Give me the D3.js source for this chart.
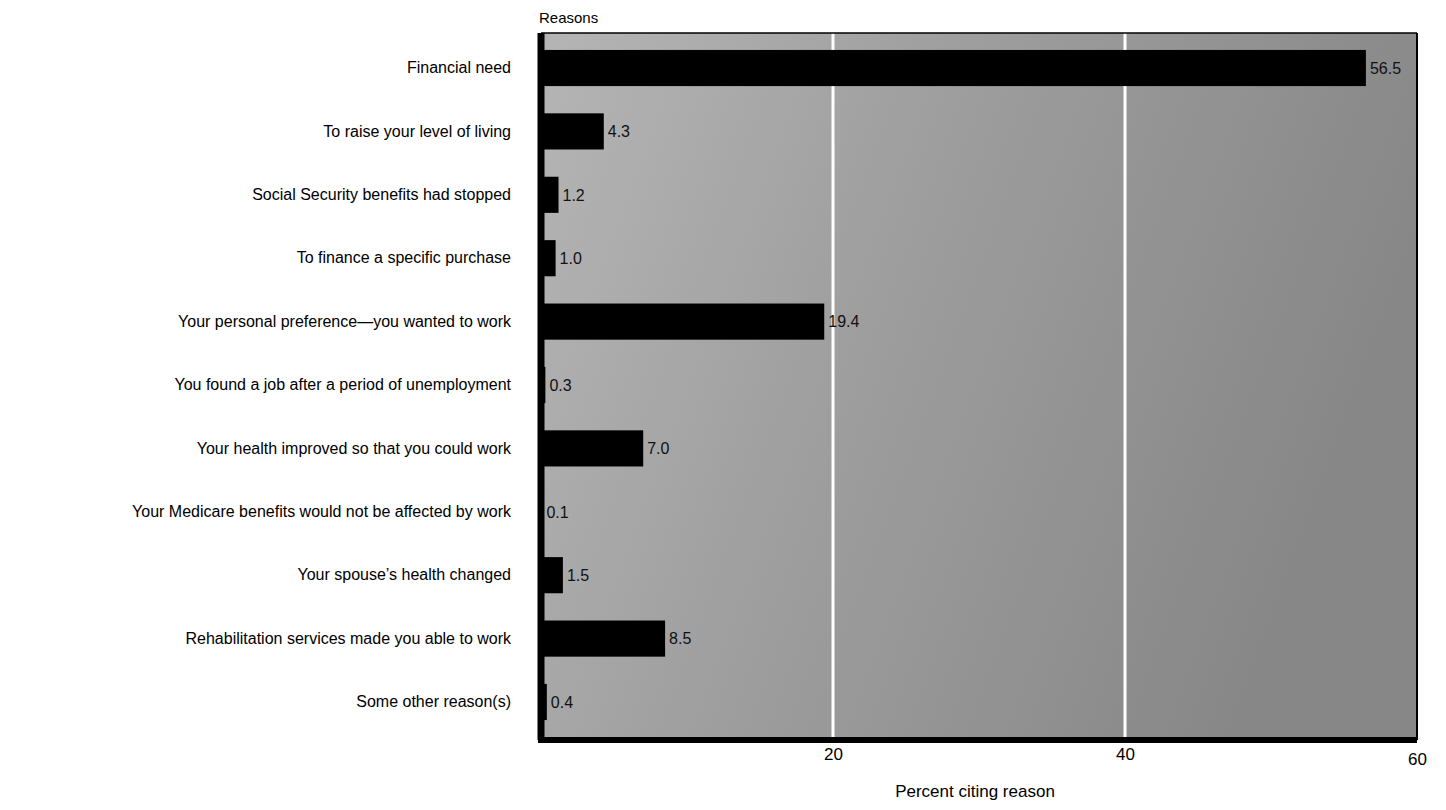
<!DOCTYPE html>
<html>
<head>
<meta charset="utf-8">
<script src="https://cdn.jsdelivr.net/npm/d3@7"></script>
<style>
  html, body { margin: 0; padding: 0; background: #fff; }
  svg { display: block; }
</style>
</head>
<body>
<svg id="chart" width="1446" height="810"></svg>
<script>
const categories = [
  "Financial need",
  "To raise your level of living",
  "Social Security benefits had stopped",
  "To finance a specific purchase",
  "Your personal preference\u2014you wanted to work",
  "You found a job after a period of unemployment",
  "Your health improved so that you could work",
  "Your Medicare benefits would not be affected by work",
  "Your spouse\u2019s health changed",
  "Rehabilitation services made you able to work",
  "Some other reason(s)"
];
const values = [56.5, 4.3, 1.2, 1.0, 19.4, 0.3, 7.0, 0.1, 1.5, 8.5, 0.4];
const valueLabels = ["56.5", "4.3", "1.2", "1.0", "19.4", "0.3", "7.0", "0.1", "1.5", "8.5", "0.4"];
const tickValues = [20, 40, 60];
const axisTitle = "Percent citing reason";
const yTitle = "Reasons";

const svg = d3.select("#chart");
const pL = 541, pR = 1417, pT = 33, pB = 740;

const x = d3.scaleLinear().domain([0, 60]).range([pL, pR]);
const y = d3.scaleBand().domain(categories).range([pT + 3, pB - 6]).paddingInner(0.43).paddingOuter(0.22);

const defs = svg.append("defs");
const grad = defs.append("linearGradient").attr("id", "bg").attr("x1", "0").attr("y1", "0").attr("x2", "1").attr("y2", "0.3");
grad.append("stop").attr("offset", "0%").attr("stop-color", "#b5b5b5");
grad.append("stop").attr("offset", "45%").attr("stop-color", "#9e9e9e");
grad.append("stop").attr("offset", "100%").attr("stop-color", "#878787");

// plot background
svg.append("rect").attr("x", pL).attr("y", pT).attr("width", pR - pL).attr("height", pB - pT)
  .attr("fill", "url(#bg)");

// gridlines
svg.append("g").selectAll("line").data(tickValues.filter(d => d < 60)).join("line")
  .attr("x1", d => x(d)).attr("x2", d => x(d)).attr("y1", pT).attr("y2", pB)
  .attr("stroke", "#fff").attr("stroke-width", 3);

// bars
svg.append("g").selectAll("rect").data(values).join("rect")
  .attr("x", x(0)).attr("y", (d, i) => y(categories[i]))
  .attr("width", d => x(d) - x(0)).attr("height", y.bandwidth())
  .attr("fill", "#000");

// value labels
svg.append("g").selectAll("text").data(values).join("text")
  .attr("x", d => x(d) + 4).attr("y", (d, i) => y(categories[i]) + y.bandwidth() / 2)
  .attr("dy", "0.36em")
  .attr("font-family", "Liberation Sans, Arial, sans-serif").attr("font-size", 16)
  .attr("fill", "#111")
  .text((d, i) => valueLabels[i]);

// frame: top thin, right thin
svg.append("line").attr("x1", pL).attr("x2", pR).attr("y1", pT).attr("y2", pT)
  .attr("stroke", "#000").attr("stroke-width", 1.5);
svg.append("line").attr("x1", pR).attr("x2", pR).attr("y1", pT).attr("y2", pB)
  .attr("stroke", "#000").attr("stroke-width", 2);

// y axis (thick left)
const yAxis = d3.axisLeft(y).tickSize(0).tickPadding(30);
const gy = svg.append("g").attr("transform", `translate(${pL},0)`).call(yAxis);
gy.select(".domain").attr("stroke", "#000").attr("stroke-width", 7)
  .attr("d", `M0,${pT}V${pB}`);
gy.selectAll("text").attr("font-family", "Liberation Sans, Arial, sans-serif").attr("font-size", 16).attr("fill", "#000");

// x axis (thick bottom)
const xAxis = d3.axisBottom(x).tickValues(tickValues).tickSize(0).tickPadding(8);
const gx = svg.append("g").attr("transform", `translate(0,${pB})`).call(xAxis);
gx.select(".domain").attr("stroke", "#000").attr("stroke-width", 6)
  .attr("d", `M${pL - 3},0H${pR}`);
gx.selectAll("text").attr("font-family", "Liberation Sans, Arial, sans-serif").attr("font-size", 17).attr("fill", "#000")
  .attr("dy", (d) => d === 60 ? "1.0em" : "0.71em");

// titles
svg.append("text").attr("x", 975).attr("y", 797).attr("text-anchor", "middle")
  .attr("font-family", "Liberation Sans, Arial, sans-serif").attr("font-size", 17).text(axisTitle);
svg.append("text").attr("x", pL - 2).attr("y", 23)
  .attr("font-family", "Liberation Sans, Arial, sans-serif").attr("font-size", 15).text(yTitle);
</script>
</body>
</html>
